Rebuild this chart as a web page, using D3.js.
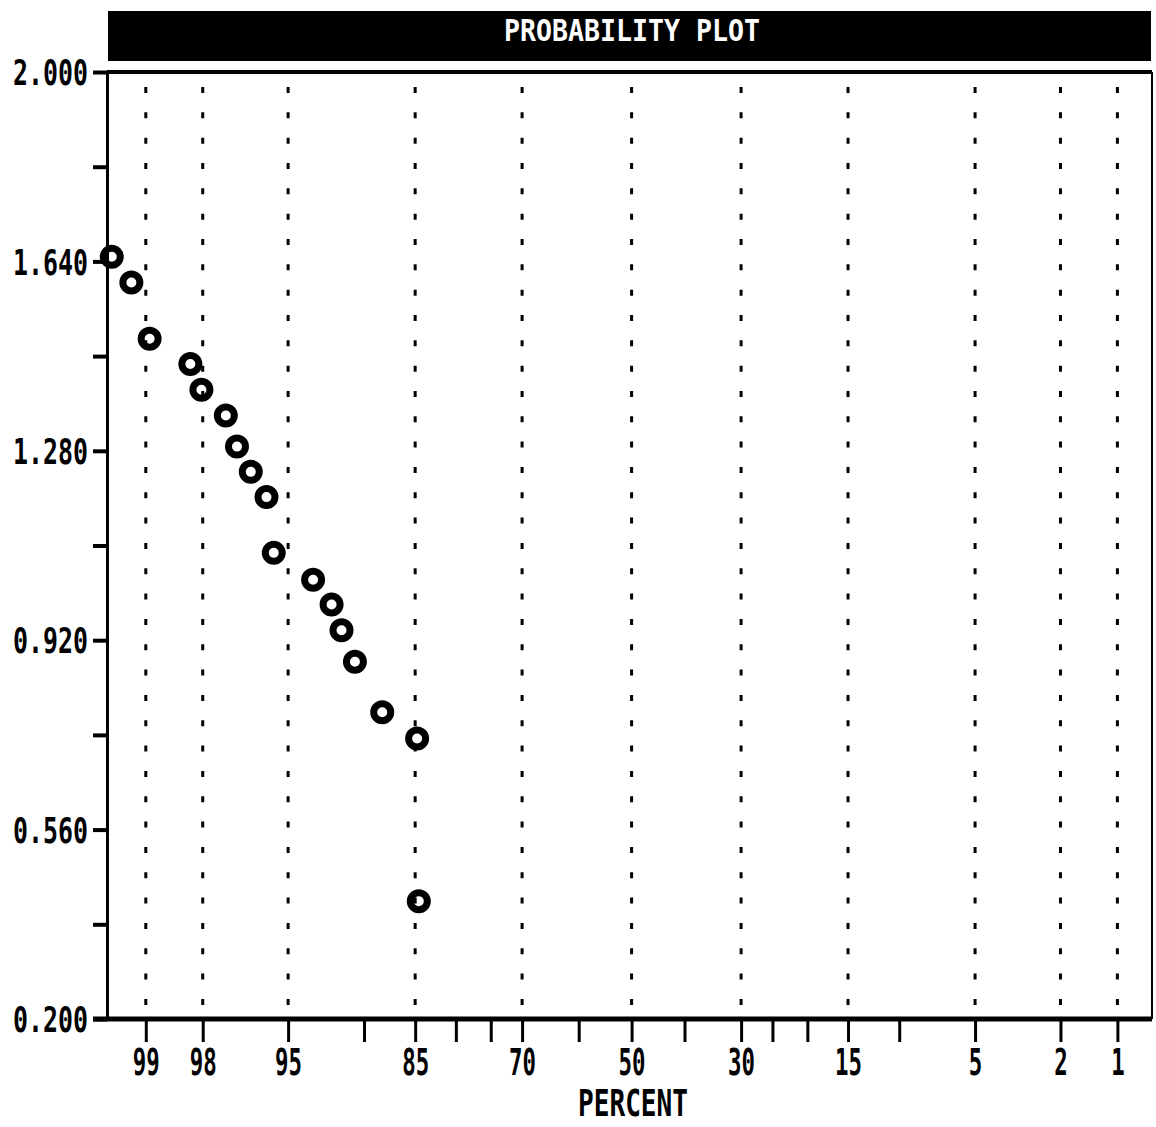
<!DOCTYPE html>
<html>
<head>
<meta charset="utf-8">
<script src="https://cdn.jsdelivr.net/npm/d3@7"></script>
<style>
  body { margin: 0; background: #fff; }
  svg { display: block; }
  text { font-family: "DejaVu Sans Mono", monospace; font-weight: bold; }
</style>
</head>
<body>
<div id="chart"></div>
<script>
// data
const percentValues = [99.36, 99.17, 98.95, 98.27, 98.03, 97.40, 97.06, 96.59, 95.98, 95.67,
                       93.64, 92.46, 91.76, 90.74, 88.38, 84.78, 84.59];
const yValues = [1.649, 1.600, 1.493, 1.445, 1.396, 1.347, 1.288, 1.240, 1.192, 1.086,
                 1.035, 0.988, 0.939, 0.879, 0.783, 0.733, 0.424];

// axis ticks
const gridPercents = [99, 98, 95, 85, 70, 50, 30, 15, 5, 2, 1];
const minorPercents = [90, 80, 75, 60, 40, 25, 20, 10];
const yMajorTicks = [0.200, 0.560, 0.920, 1.280, 1.640, 2.000];
const yMinorTicks = [0.380, 0.740, 1.100, 1.460, 1.820];

const titleText = "PROBABILITY PLOT";
const xAxisTitle = "PERCENT";

// inverse normal cdf (Acklam)
function probit(p) {
    const a = [-3.969683028665376e+01, 2.209460984245205e+02, -2.759285104469687e+02,
               1.383577518672690e+02, -3.066479806614716e+01, 2.506628277459239e+00];
    const b = [-5.447609879822406e+01, 1.615858368580409e+02, -1.556989798598866e+02,
               6.680131188771972e+01, -1.328068155288572e+01];
    const c = [-7.784894002430293e-03, -3.223964580411365e-01, -2.400758277161838e+00,
               -2.549732539343734e+00, 4.374664141464968e+00, 2.938163982698783e+00];
    const d = [7.784695709041462e-03, 3.224671290700398e-01, 2.445134137142996e+00,
               3.754408661907416e+00];
    const pl = 0.02425;
    let q, r;
    if (p < pl) {
        q = Math.sqrt(-2 * Math.log(p));
        return (((((c[0]*q + c[1])*q + c[2])*q + c[3])*q + c[4])*q + c[5]) /
               ((((d[0]*q + d[1])*q + d[2])*q + d[3])*q + 1);
    }
    if (p > 1 - pl) {
        q = Math.sqrt(-2 * Math.log(1 - p));
        return -(((((c[0]*q + c[1])*q + c[2])*q + c[3])*q + c[4])*q + c[5]) /
                ((((d[0]*q + d[1])*q + d[2])*q + d[3])*q + 1);
    }
    q = p - 0.5;
    r = q * q;
    return (((((a[0]*r + a[1])*r + a[2])*r + a[3])*r + a[4])*r + a[5]) * q /
           (((((b[0]*r + b[1])*r + b[2])*r + b[3])*r + b[4])*r + 1);
}
const zOf = pct => probit(pct / 100);

const W = 1156, H = 1127;
const plotLeft = 107, plotRight = 1152, plotTop = 72, plotBottom = 1019;

const svg = d3.select("#chart")
    .append("svg")
        .attr("width", W)
        .attr("height", H);

svg.append("rect").attr("width", W).attr("height", H).attr("fill", "#fff");

// scales: normal probability on x, linear on y
const x = d3.scaleLinear()
    .domain([zOf(99.40), zOf(0.635)])
    .range([plotLeft, plotRight]);

const y = d3.scaleLinear()
    .domain([0.2, 2.0])
    .range([plotBottom, plotTop]);

// title bar
svg.append("rect")
    .attr("x", 108).attr("y", 11)
    .attr("width", 1043).attr("height", 50)
    .attr("fill", "#000");

function squeezedText(g, str, cx, baseline, size, charW) {
    const len = charW * str.length;
    return g.append("text")
        .attr("x", cx - len / 2)
        .attr("y", baseline)
        .attr("font-size", size)
        .attr("textLength", len)
        .attr("lengthAdjust", "spacingAndGlyphs")
        .text(str);
}

squeezedText(svg, titleText, 632, 41, 31, 16).attr("fill", "#fff");

// dotted gridlines
svg.append("g")
    .selectAll("line")
    .data(gridPercents)
    .join("line")
        .attr("x1", d => x(zOf(d)))
        .attr("x2", d => x(zOf(d)))
        .attr("y1", 87)
        .attr("y2", plotBottom - 2)
        .attr("stroke", "#000")
        .attr("stroke-width", 3)
        .attr("stroke-dasharray", "6 19.33");

// frame top + right
svg.append("line")
    .attr("x1", plotLeft).attr("x2", plotRight)
    .attr("y1", plotTop).attr("y2", plotTop)
    .attr("stroke", "#000").attr("stroke-width", 4);
svg.append("line")
    .attr("x1", plotRight).attr("x2", plotRight)
    .attr("y1", plotTop).attr("y2", plotBottom)
    .attr("stroke", "#000").attr("stroke-width", 2);

// x axis, minor ticks
svg.append("g")
    .attr("transform", `translate(0,${plotBottom})`)
    .call(d3.axisBottom(x)
        .tickValues(minorPercents.map(zOf))
        .tickSize(23)
        .tickSizeOuter(0)
        .tickFormat(""))
    .call(g => g.select(".domain").remove())
    .selectAll("line")
        .attr("stroke", "#000")
        .attr("stroke-width", 3);

// x axis, labelled ticks
const xAxis = svg.append("g")
    .attr("transform", `translate(0,${plotBottom})`)
    .call(d3.axisBottom(x)
        .tickValues(gridPercents.map(zOf))
        .tickSize(23)
        .tickSizeOuter(0)
        .tickFormat((d, i) => String(gridPercents[i])));

xAxis.select(".domain").remove();
xAxis.selectAll(".tick line")
    .attr("stroke", "#000")
    .attr("stroke-width", 3);
xAxis.selectAll(".tick text")
    .attr("fill", "#000")
    .attr("font-size", 37)
    .attr("font-family", "DejaVu Sans Mono")
    .attr("dy", null)
    .attr("y", 56)
    .attr("textLength", function() { return 13.5 * this.textContent.length; })
    .attr("lengthAdjust", "spacingAndGlyphs");

svg.append("line")
    .attr("x1", 93).attr("x2", plotRight)
    .attr("y1", plotBottom).attr("y2", plotBottom)
    .attr("stroke", "#000").attr("stroke-width", 5);

// y axis
svg.append("g")
    .attr("transform", `translate(${plotLeft},0)`)
    .call(d3.axisLeft(y)
        .tickValues(yMinorTicks)
        .tickSize(14)
        .tickSizeOuter(0)
        .tickFormat(""))
    .call(g => g.select(".domain").remove())
    .selectAll("line")
        .attr("stroke", "#000")
        .attr("stroke-width", 4);

const yAxis = svg.append("g")
    .attr("transform", `translate(${plotLeft},0)`)
    .call(d3.axisLeft(y)
        .tickValues(yMajorTicks)
        .tickSize(14)
        .tickSizeOuter(0)
        .tickPadding(5)
        .tickFormat(d3.format(".3f")));

yAxis.select(".domain")
    .attr("stroke", "#000")
    .attr("stroke-width", 3);
yAxis.selectAll(".tick line")
    .attr("stroke", "#000")
    .attr("stroke-width", 4);
yAxis.selectAll(".tick text")
    .attr("fill", "#000")
    .attr("font-size", 35)
    .attr("font-family", "DejaVu Sans Mono")
    .attr("dy", "0.36em")
    .attr("textLength", 75)
    .attr("lengthAdjust", "spacingAndGlyphs");

// axis title
squeezedText(svg, xAxisTitle, 633, 1116, 38, 15.7).attr("fill", "#000");

// points
svg.append("g")
    .selectAll("circle")
    .data(percentValues.map((p, i) => ({p: p, v: yValues[i]})))
    .join("circle")
        .attr("cx", d => x(zOf(d.p)))
        .attr("cy", d => y(d.v))
        .attr("r", 8.5)
        .attr("fill", "none")
        .attr("stroke", "#000")
        .attr("stroke-width", 7);
</script>
</body>
</html>
